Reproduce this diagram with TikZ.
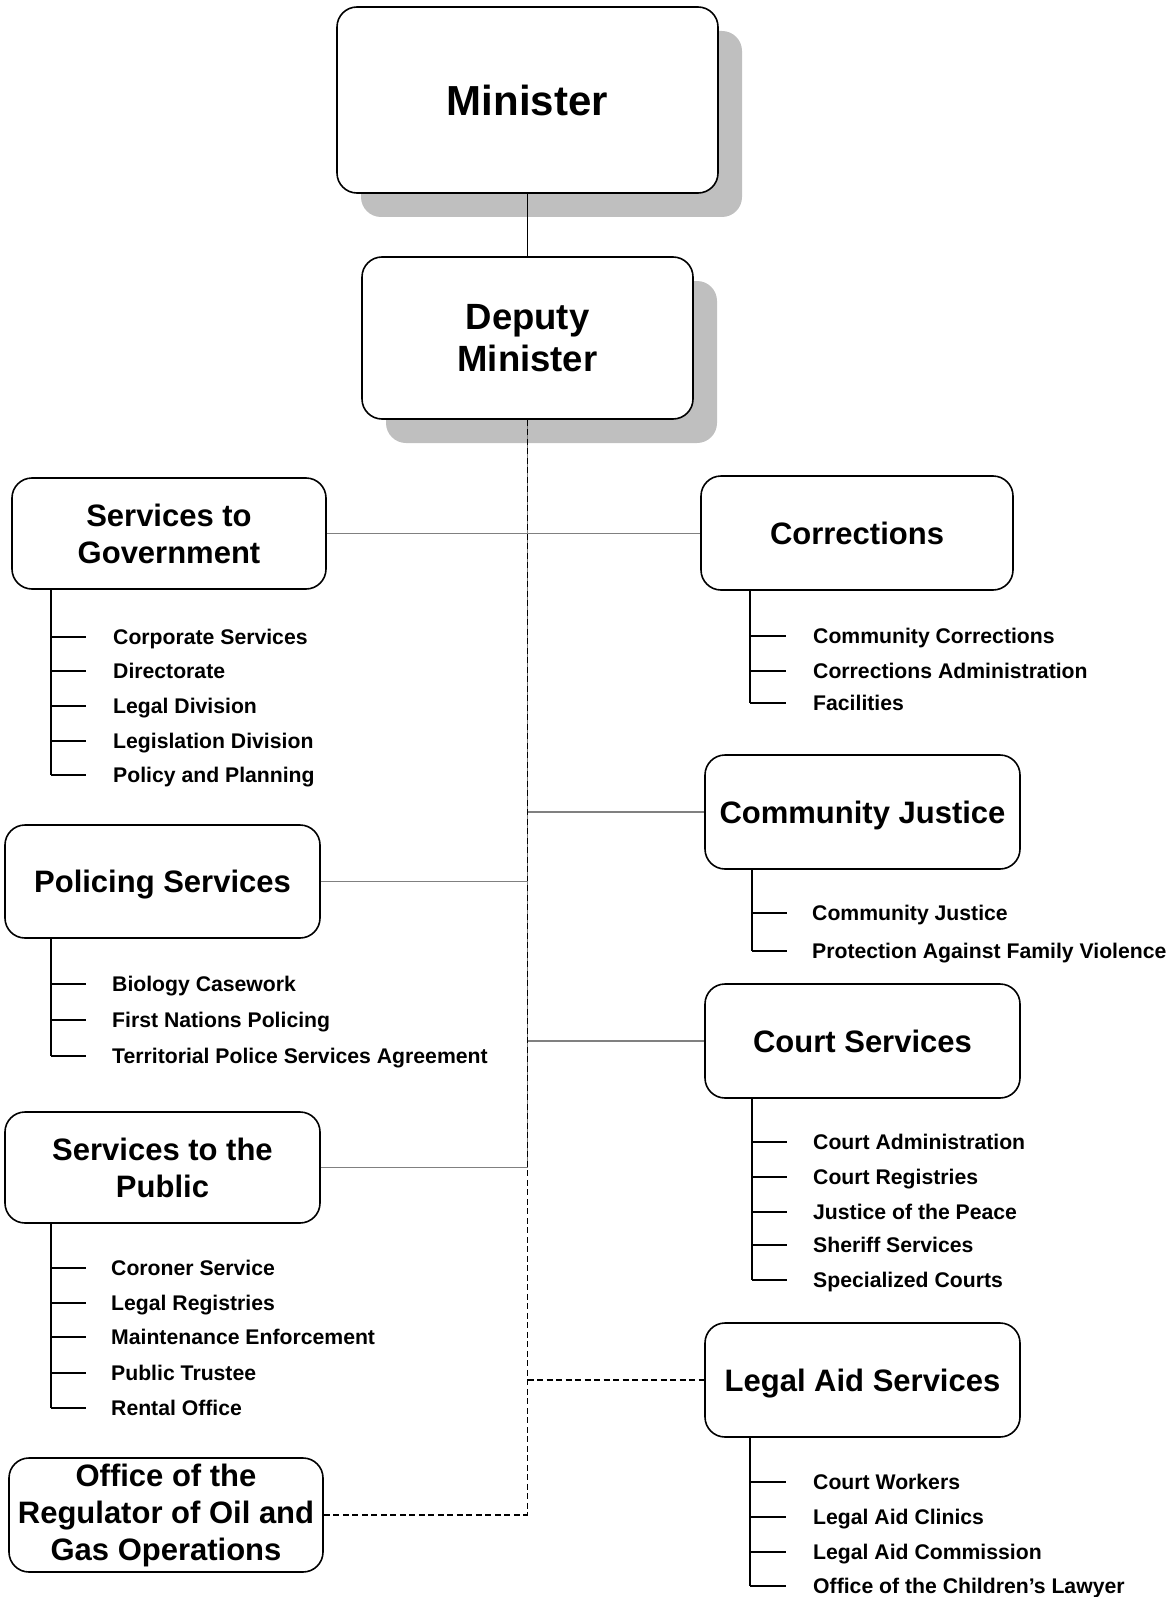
\documentclass[tikz,border=0pt]{standalone}
\usepackage{fontspec}
\setmainfont{Liberation Sans}
\usetikzlibrary{calc,shadows}
\tikzset{
unitbox/.style={draw,line width=1.6pt,rounded corners=20pt,fill=white,align=center,inner sep=0pt,font=\fontsize{31}{37}\selectfont\bfseries,minimum width=315pt,minimum height=114pt},
oneline/.style={text height=22pt,text depth=0pt},
headbox/.style={unitbox,drop shadow={shadow xshift=24pt,shadow yshift=-24pt,fill=black!25,opacity=1}},
subitem/.style={anchor=west,inner sep=0pt,font=\fontsize{21.2}{25}\selectfont\bfseries,text height=15pt,text depth=0pt},
tie/.style={draw=black!50,line width=1.3pt},
dotlink/.style={line width=1.3pt,dash pattern=on 6pt off 3.5pt},
branch/.style={line width=1.7pt}}
\begin{document}
\begin{tikzpicture}[x=1pt,y=-1pt]
\useasboundingbox(0,0)rectangle(1173,1597);
% top of the chart
\node[headbox,minimum width=381pt,minimum height=186pt,font=\fontsize{42}{48}\selectfont\bfseries](min)at(527.5,100){Minister};
\node[headbox,minimum width=331pt,minimum height=162pt,font=\fontsize{36.5}{42}\selectfont\bfseries](dm)at(527.5,338){Deputy\\Minister};
% branches
\node[unitbox,minimum width=314pt,minimum height=111pt](sg)at(169,533.5){Services to\\Government};
\node[unitbox,oneline,minimum width=312pt](cor)at(857,533){Corrections};
\node[unitbox,oneline](cj)at(862.5,812){Community Justice};
\node[unitbox,oneline,minimum height=113pt](ps)at(162.5,881.5){Policing Services};
\node[unitbox,oneline](cs)at(862.5,1041){Court Services};
\node[unitbox,minimum height=111pt](sp)at(162.5,1167.5){Services to the\\Public};
\node[unitbox,oneline](la)at(862.5,1380){Legal Aid Services};
\node[unitbox,minimum width=314pt](oro)at(166,1515){Office of the\\Regulator of Oil and\\Gas Operations};
% connectors
\draw[line width=1pt](min.south)--(dm.north);
\draw[tie](dm.south)--(dm.south|-sp.east);
\draw[dotlink](dm.south)--(dm.south|-oro.east);
\draw[tie](sg.east)--(sg.east-|cor.west);
\draw[tie](dm.south|-cj.west)--(cj.west);
\draw[tie](ps.east)--(ps.east-|dm.south);
\draw[tie](dm.south|-cs.west)--(cs.west);
\draw[tie](sp.east)--(sp.east-|dm.south);
\draw[dotlink](dm.south|-la.west)--(la.west);
\draw[dotlink](oro.east)--(oro.east-|dm.south);
% sub units
\coordinate(sgt)at($(sg.south west)+(40,0)$);
\foreach\y/\t[count=\i]in{637/Corporate Services,671/Directorate,706/Legal Division,741/Legislation Division,775/Policy and Planning}{\node[subitem](sg\i)at(113,\y){\t};\draw[branch](sgt|-sg\i.west)--++(35,0);}
\draw[branch](sgt)--(sgt|-sg5.west);
\coordinate(cort)at($(cor.south west)+(50,0)$);
\foreach\y/\t[count=\i]in{636/Community Corrections,671/Corrections Administration,703/Facilities}{\node[subitem](cor\i)at(813,\y){\t};\draw[branch](cort|-cor\i.west)--++(36,0);}
\draw[branch](cort)--(cort|-cor3.west);
\coordinate(cjt)at($(cj.south west)+(48,0)$);
\foreach\y/\t[count=\i]in{913/Community Justice,951/Protection Against Family Violence}{\node[subitem](cj\i)at(812,\y){\t};\draw[branch](cjt|-cj\i.west)--++(35,0);}
\draw[branch](cjt)--(cjt|-cj2.west);
\coordinate(pst)at($(ps.south west)+(47,0)$);
\foreach\y/\t[count=\i]in{984/Biology Casework,1020/First Nations Policing,1056/Territorial Police Services Agreement}{\node[subitem](ps\i)at(112,\y){\t};\draw[branch](pst|-ps\i.west)--++(35,0);}
\draw[branch](pst)--(pst|-ps3.west);
\coordinate(cst)at($(cs.south west)+(48,0)$);
\foreach\y/\t[count=\i]in{1142/Court Administration,1177/Court Registries,1212/Justice of the Peace,1245/Sheriff Services,1280/Specialized Courts}{\node[subitem](cs\i)at(813,\y){\t};\draw[branch](cst|-cs\i.west)--++(35,0);}
\draw[branch](cst)--(cst|-cs5.west);
\coordinate(spt)at($(sp.south west)+(47,0)$);
\foreach\y/\t[count=\i]in{1268/Coroner Service,1303/Legal Registries,1337/Maintenance Enforcement,1373/Public Trustee,1408/Rental Office}{\node[subitem](sp\i)at(111,\y){\t};\draw[branch](spt|-sp\i.west)--++(35,0);}
\draw[branch](spt)--(spt|-sp5.west);
\coordinate(lat)at($(la.south west)+(46,0)$);
\foreach\y/\t[count=\i]in{1482/Court Workers,1517/Legal Aid Clinics,1552/Legal Aid Commission,1586/Office of the Children’s Lawyer}{\node[subitem](la\i)at(813,\y){\t};\draw[branch](lat|-la\i.west)--++(36,0);}
\draw[branch](lat)--(lat|-la4.west);
\end{tikzpicture}
\end{document}
